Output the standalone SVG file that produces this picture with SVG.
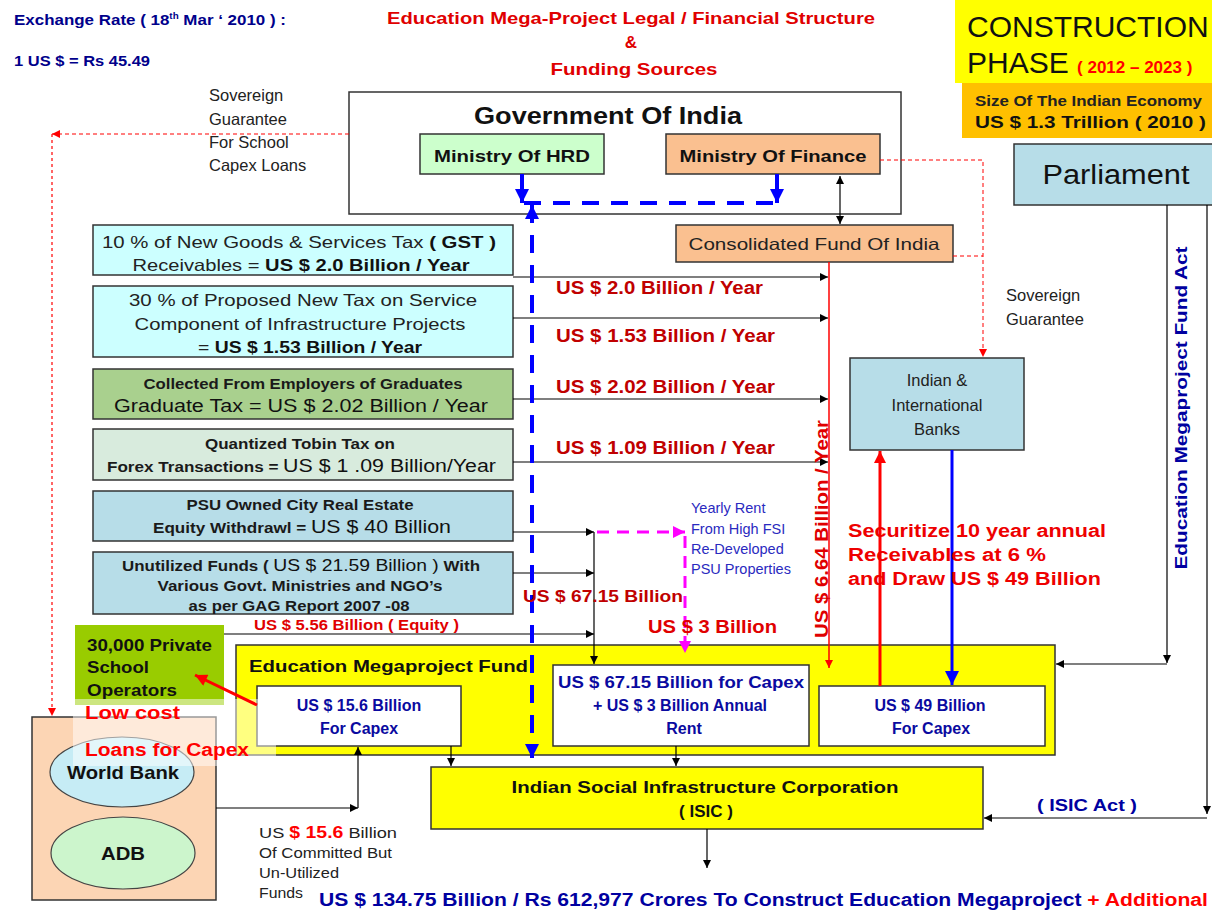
<svg xmlns="http://www.w3.org/2000/svg" width="1212" height="911" viewBox="0 0 1212 911">
<defs>
<style>
text{font-family:"Liberation Sans",Arial,sans-serif;}
.b{font-weight:bold;}
.box{stroke:#333;stroke-width:1.5;}
.ln{fill:none;stroke:#000;stroke-width:1.2;}
.navy{fill:#00008b;}
.dred{fill:#c00000;}
.red{fill:#ff0000;}
.blu{fill:#0a0aa0;}
</style>
<marker id="ab" viewBox="0 0 10 10" refX="10" refY="5" markerWidth="9" markerHeight="8" markerUnits="userSpaceOnUse" orient="auto-start-reverse"><path d="M0,0 L10,5 L0,10 z" fill="#000"/></marker>
<marker id="abl" viewBox="0 0 10 10" refX="10" refY="5" markerWidth="14" markerHeight="14" markerUnits="userSpaceOnUse" orient="auto-start-reverse"><path d="M0,0 L10,5 L0,10 z" fill="#0000ff"/></marker>
<marker id="ared" viewBox="0 0 10 10" refX="10" refY="5" markerWidth="14" markerHeight="12" markerUnits="userSpaceOnUse" orient="auto"><path d="M0,0 L10,5 L0,10 z" fill="#ff0000"/></marker>
<marker id="ars" viewBox="0 0 10 10" refX="10" refY="5" markerWidth="9" markerHeight="8" markerUnits="userSpaceOnUse" orient="auto"><path d="M0,0 L10,5 L0,10 z" fill="#ff0000"/></marker>
<marker id="amg" viewBox="0 0 10 10" refX="10" refY="5" markerWidth="12" markerHeight="12" markerUnits="userSpaceOnUse" orient="auto"><path d="M0,0 L10,5 L0,10 z" fill="#ff00ff"/></marker>
</defs>
<rect width="1212" height="911" fill="#fff"/>

<g id="header">
<text x="14" y="25" class="b navy" font-size="15.5" textLength="272" lengthAdjust="spacingAndGlyphs">Exchange Rate ( 18<tspan font-size="9" dy="-6">th</tspan><tspan dy="6"> Mar ‘ 2010 ) :</tspan></text>
<text x="14" y="66" class="b navy" font-size="15.5" textLength="136" lengthAdjust="spacingAndGlyphs">1 US $ = Rs 45.49</text>
<text x="631" y="24" class="b" fill="#e00000" font-size="17" text-anchor="middle" textLength="488" lengthAdjust="spacingAndGlyphs">Education Mega-Project Legal / Financial Structure</text>
<text x="631" y="48" class="b" fill="#e00000" font-size="17" text-anchor="middle">&amp;</text>
<text x="634" y="75" class="b" fill="#e00000" font-size="17" text-anchor="middle" textLength="167" lengthAdjust="spacingAndGlyphs">Funding Sources</text>
</g>

<g id="phase">
<rect x="955" y="0" width="257" height="83" fill="#ffff00"/>
<text x="967" y="37" font-size="30" fill="#111">CONSTRUCTION</text>
<text x="967" y="73" font-size="30" fill="#111">PHASE <tspan class="b" fill="#ff0000" font-size="17">( 2012 – 2023 )</tspan></text>
</g>
<g id="economy">
<rect x="962" y="83" width="250" height="55" fill="#ffc000"/>
<text x="975" y="106" class="b" font-size="14.5" fill="#222" textLength="227" lengthAdjust="spacingAndGlyphs">Size Of The Indian Economy</text>
<text x="975" y="128" class="b" font-size="17" fill="#111" textLength="231" lengthAdjust="spacingAndGlyphs">US $ 1.3 Trillion ( 2010 )</text>
</g>

<g id="parliament">
<rect x="1014" y="144" width="206" height="61" fill="#b7dde8" class="box"/>
<text x="1116" y="184" font-size="27" fill="#111" text-anchor="middle" textLength="147" lengthAdjust="spacingAndGlyphs">Parliament</text>
</g>

<g id="govt">
<rect x="349" y="92" width="552" height="122" fill="#fff" class="box"/>
<text x="608" y="124" class="b" font-size="23" fill="#111" text-anchor="middle" textLength="268" lengthAdjust="spacingAndGlyphs">Government Of India</text>
</g>
<g id="hrd">
<rect x="420" y="134" width="184" height="40" fill="#ccffcc" class="box"/>
<text x="512" y="162" class="b" font-size="16.5" fill="#111" text-anchor="middle" textLength="156" lengthAdjust="spacingAndGlyphs">Ministry Of HRD</text>
</g>
<g id="finance">
<rect x="666" y="134" width="214" height="40" fill="#fac090" class="box"/>
<text x="773" y="162" class="b" font-size="16.5" fill="#111" text-anchor="middle" textLength="187" lengthAdjust="spacingAndGlyphs">Ministry Of Finance</text>
</g>
<g id="consolidated">
<rect x="676" y="225" width="277" height="37" fill="#fac090" class="box"/>
<text x="814" y="250" font-size="16.5" fill="#222" text-anchor="middle" textLength="251" lengthAdjust="spacingAndGlyphs">Consolidated Fund Of India</text>
</g>

<g id="sovguar1">
<text font-size="16.5" fill="#222"><tspan x="209" y="101">Sovereign</tspan><tspan x="209" y="125">Guarantee</tspan><tspan x="209" y="148">For  School</tspan><tspan x="209" y="171">Capex Loans</tspan></text>
</g>
<g id="sovguar2">
<text font-size="16.5" fill="#222"><tspan x="1006" y="301">Sovereign</tspan><tspan x="1006" y="325">Guarantee</tspan></text>
</g>

<g id="gst">
<rect x="93" y="225" width="420" height="50" fill="#ccffff" class="box"/>
<text x="299" y="248" font-size="16.5" fill="#222" text-anchor="middle" textLength="394" lengthAdjust="spacingAndGlyphs">10 % of New Goods &amp; Services Tax <tspan class="b" fill="#111">( GST )</tspan></text>
<text x="301" y="271" font-size="16.5" fill="#222" text-anchor="middle" textLength="337" lengthAdjust="spacingAndGlyphs">Receivables = <tspan class="b" fill="#111">US $ 2.0 Billion / Year</tspan></text>
</g>
<g id="servicetax">
<rect x="93" y="286" width="420" height="71" fill="#ccffff" class="box"/>
<text x="303" y="306" font-size="16.5" fill="#222" text-anchor="middle" textLength="348" lengthAdjust="spacingAndGlyphs">30 % of Proposed New Tax on Service</text>
<text x="300" y="330" font-size="16.5" fill="#222" text-anchor="middle" textLength="331" lengthAdjust="spacingAndGlyphs">Component of Infrastructure Projects</text>
<text x="310" y="353" font-size="16.5" fill="#222" text-anchor="middle" textLength="224" lengthAdjust="spacingAndGlyphs">= <tspan class="b" fill="#111">US $ 1.53 Billion / Year</tspan></text>
</g>
<g id="gradtax">
<rect x="93" y="369" width="420" height="50" fill="#a9d08e" class="box"/>
<text x="303" y="389" class="b" font-size="14" fill="#1a1a1a" text-anchor="middle" textLength="319" lengthAdjust="spacingAndGlyphs">Collected From Employers of Graduates</text>
<text x="301" y="412" font-size="17.5" fill="#111" text-anchor="middle" textLength="374" lengthAdjust="spacingAndGlyphs">Graduate Tax = US $ 2.02 Billion / Year</text>
</g>
<g id="tobin">
<rect x="93" y="429" width="420" height="51" fill="#d8ebdd" class="box"/>
<text x="300" y="449" class="b" font-size="14" fill="#1a1a1a" text-anchor="middle" textLength="190" lengthAdjust="spacingAndGlyphs">Quantized Tobin Tax on</text>
<text x="107" y="472" class="b" font-size="14" fill="#1a1a1a" textLength="389" lengthAdjust="spacingAndGlyphs">Forex Transactions = <tspan font-weight="normal" font-size="17.5" fill="#111">US $ 1 .09 Billion/Year</tspan></text>
</g>
<g id="psu">
<rect x="93" y="491" width="420" height="50" fill="#b7dde8" class="box"/>
<text x="300" y="510" class="b" font-size="14" fill="#1a1a1a" text-anchor="middle" textLength="227" lengthAdjust="spacingAndGlyphs">PSU Owned City Real Estate</text>
<text x="153" y="533" class="b" font-size="14" fill="#1a1a1a" textLength="298" lengthAdjust="spacingAndGlyphs">Equity Withdrawl = <tspan font-weight="normal" font-size="17.5" fill="#111">US $ 40 Billion</tspan></text>
</g>
<g id="unutilized">
<rect x="93" y="552" width="420" height="62" fill="#b7dde8" class="box"/>
<text x="122" y="571" class="b" font-size="14" fill="#1a1a1a" textLength="358" lengthAdjust="spacingAndGlyphs">Unutilized Funds ( <tspan font-weight="normal" font-size="16" fill="#111">US $ 21.59 Billion )</tspan> With</text>
<text x="300" y="591" class="b" font-size="14" fill="#1a1a1a" text-anchor="middle" textLength="285" lengthAdjust="spacingAndGlyphs">Various Govt. Ministries and NGO’s</text>
<text x="299" y="611" class="b" font-size="14" fill="#1a1a1a" text-anchor="middle" textLength="221" lengthAdjust="spacingAndGlyphs">as per GAG Report 2007 -08</text>
</g>

<g id="banks">
<rect x="850" y="358" width="174" height="92" fill="#b7dde8" class="box"/>
<text font-size="16.5" fill="#222" text-anchor="middle"><tspan x="937" y="386">Indian &amp;</tspan><tspan x="937" y="411">International</tspan><tspan x="937" y="435">Banks</tspan></text>
</g>

<g id="fund">
<rect x="236" y="645" width="819" height="110" fill="#ffff00" class="box"/>
<text x="249" y="672" class="b" font-size="17" fill="#111" textLength="279" lengthAdjust="spacingAndGlyphs">Education Megaproject Fund</text>
</g>
<g id="fund156">
<rect x="257" y="686" width="204" height="60" fill="#fff" class="box"/>
<text class="b blu" font-size="16" text-anchor="middle"><tspan x="359" y="711">US $ 15.6 Billion</tspan><tspan x="359" y="734">For Capex</tspan></text>
</g>
<g id="fund6715">
<rect x="553" y="665" width="256" height="81" fill="#fff" class="box"/>
<text class="b blu" font-size="16" text-anchor="middle"><tspan x="681" y="688" textLength="246" lengthAdjust="spacingAndGlyphs">US $ 67.15 Billion for Capex</tspan><tspan x="680" y="711">+ US $ 3 Billion Annual</tspan><tspan x="684" y="734">Rent</tspan></text>
</g>
<g id="fund49">
<rect x="819" y="686" width="226" height="60" fill="#fff" class="box"/>
<text class="b blu" font-size="16" text-anchor="middle"><tspan x="930" y="711">US $ 49 Billion</tspan><tspan x="931" y="734">For Capex</tspan></text>
</g>

<g id="isic">
<rect x="431" y="767" width="552" height="62" fill="#ffff00" class="box"/>
<text x="705" y="793" class="b" font-size="17" fill="#111" text-anchor="middle" textLength="387" lengthAdjust="spacingAndGlyphs">Indian Social Infrastructure Corporation</text>
<text x="706" y="817" class="b" font-size="17" fill="#111" text-anchor="middle">( ISIC )</text>
</g>

<g id="lenders">
<rect x="32" y="717" width="184" height="183" fill="#fcd5b4" class="box"/>
<ellipse cx="122" cy="772" rx="72" ry="35" fill="#c6ecf5" stroke="#444" stroke-width="1.2"/>
<text x="123" y="779" class="b" font-size="18.5" fill="#111" text-anchor="middle" textLength="112" lengthAdjust="spacingAndGlyphs">World Bank</text>
<ellipse cx="123" cy="853" rx="72" ry="36" fill="#ccf5cc" stroke="#444" stroke-width="1.2"/>
<text x="123" y="860" class="b" font-size="18.5" fill="#111" text-anchor="middle" textLength="44" lengthAdjust="spacingAndGlyphs">ADB</text>
</g>

<g id="operators">
<rect x="75" y="625" width="149" height="80" fill="#99cc00"/>
<text class="b" font-size="17" fill="#111"><tspan x="87" y="651" textLength="125" lengthAdjust="spacingAndGlyphs">30,000 Private</tspan><tspan x="87" y="673" textLength="62" lengthAdjust="spacingAndGlyphs">School</tspan><tspan x="87" y="696" textLength="90" lengthAdjust="spacingAndGlyphs">Operators</tspan></text>
</g>
<g id="lowcost">
<rect x="73" y="699" width="203" height="67" fill="#ffffff" opacity="0.5"/>
<text class="b red" font-size="18"><tspan x="85" y="719" textLength="95" lengthAdjust="spacingAndGlyphs">Low  cost</tspan><tspan x="85" y="756" textLength="164" lengthAdjust="spacingAndGlyphs">Loans  for Capex</tspan></text>
</g>

<g id="connectors">
<line x1="840" y1="176" x2="840" y2="224" class="ln" marker-start="url(#ab)" marker-end="url(#ab)"/>
<line x1="513" y1="277" x2="828" y2="277" class="ln" marker-end="url(#ab)"/>
<line x1="513" y1="318" x2="828" y2="318" class="ln" marker-end="url(#ab)"/>
<line x1="513" y1="399" x2="828" y2="399" class="ln" marker-end="url(#ab)"/>
<line x1="513" y1="462" x2="828" y2="462" class="ln" marker-end="url(#ab)"/>
<line x1="513" y1="532" x2="594" y2="532" class="ln" marker-end="url(#ab)"/>
<line x1="513" y1="573" x2="594" y2="573" class="ln" marker-end="url(#ab)"/>
<line x1="224" y1="634" x2="594" y2="634" class="ln" marker-end="url(#ab)"/>
<line x1="594" y1="532" x2="594" y2="664" class="ln" marker-end="url(#ab)"/>
<line x1="1167" y1="205" x2="1167" y2="663" class="ln" marker-end="url(#ab)"/>
<line x1="1167" y1="664" x2="1056" y2="664" class="ln" marker-end="url(#ab)"/>
<line x1="1207" y1="205" x2="1207" y2="814" class="ln" marker-end="url(#ab)"/>
<line x1="1207" y1="818" x2="984" y2="818" class="ln" marker-end="url(#ab)"/>
<line x1="451" y1="746" x2="451" y2="766" class="ln" marker-end="url(#ab)"/>
<line x1="676" y1="746" x2="676" y2="766" class="ln" marker-end="url(#ab)"/>
<line x1="707" y1="829" x2="707" y2="868" class="ln" marker-end="url(#ab)"/>
<line x1="216" y1="808" x2="358" y2="808" class="ln" marker-end="url(#ab)"/>
<line x1="358" y1="808" x2="358" y2="747" class="ln" marker-end="url(#ab)"/>
<line x1="829" y1="262" x2="829" y2="668" stroke="#ff0000" stroke-width="1.5" marker-end="url(#ars)"/>
<polyline points="880,160 983,160 983,357" fill="none" stroke="#ff0000" stroke-width="1" stroke-dasharray="4 3" marker-end="url(#ars)"/>
<line x1="953" y1="256" x2="983" y2="256" stroke="#ff0000" stroke-width="1" stroke-dasharray="4 3"/>
<line x1="349" y1="134" x2="52" y2="134" stroke="#ff0000" stroke-width="1.2" stroke-dasharray="4 3" marker-end="url(#ars)"/>
<line x1="52" y1="134" x2="52" y2="716" stroke="#ff0000" stroke-width="1.2" stroke-dasharray="3 3" marker-end="url(#ars)"/>
<line x1="880" y1="686" x2="880" y2="451" stroke="#ff0000" stroke-width="3" marker-end="url(#ared)"/>
<line x1="257" y1="705" x2="195" y2="675" stroke="#ff0000" stroke-width="3" marker-end="url(#ared)"/>
<line x1="952" y1="450" x2="952" y2="685" stroke="#0000ff" stroke-width="3" marker-end="url(#abl)"/>
<line x1="522" y1="174" x2="522" y2="203" stroke="#0000ff" stroke-width="4" marker-end="url(#abl)"/>
<line x1="777" y1="174" x2="777" y2="203" stroke="#0000ff" stroke-width="4" marker-end="url(#abl)"/>
<line x1="524" y1="203" x2="780" y2="203" stroke="#0000ff" stroke-width="4" stroke-dasharray="17 12"/>
<line x1="532" y1="205" x2="532" y2="758" stroke="#0000ff" stroke-width="4" stroke-dasharray="18 12" marker-start="url(#abl)" marker-end="url(#abl)"/>
<line x1="597" y1="532" x2="685" y2="532" stroke="#ff00ff" stroke-width="3" stroke-dasharray="12 8" marker-end="url(#amg)"/>
<line x1="685" y1="536" x2="685" y2="653" stroke="#ff00ff" stroke-width="3" stroke-dasharray="12 8" marker-end="url(#amg)"/>
</g>

<g id="labels">
<text class="b dred" font-size="17.5"><tspan x="556" y="294" textLength="207" lengthAdjust="spacingAndGlyphs">US $ 2.0 Billion / Year</tspan><tspan x="556" y="342" textLength="219" lengthAdjust="spacingAndGlyphs">US $ 1.53 Billion / Year</tspan><tspan x="556" y="393" textLength="219" lengthAdjust="spacingAndGlyphs">US $ 2.02 Billion / Year</tspan><tspan x="556" y="454" textLength="219" lengthAdjust="spacingAndGlyphs">US $ 1.09 Billion / Year</tspan></text>
<text x="254" y="630" class="b" fill="#e00000" font-size="14" textLength="205" lengthAdjust="spacingAndGlyphs">US $ 5.56 Billion ( Equity )</text>
<text x="523" y="602" class="b dred" font-size="16.5" textLength="160" lengthAdjust="spacingAndGlyphs">US $ 67.15  Billion</text>
<text x="648" y="633" class="b" fill="#e00000" font-size="18" textLength="129" lengthAdjust="spacingAndGlyphs">US $ 3 Billion</text>
<text font-size="14.5" fill="#2a2ac0"><tspan x="691" y="513">Yearly Rent</tspan><tspan x="691" y="534">From High FSI</tspan><tspan x="691" y="554">Re-Developed</tspan><tspan x="691" y="574">PSU Properties</tspan></text>
<text transform="translate(828,529) rotate(-90)" class="b" fill="#e00000" font-size="18.5" text-anchor="middle" textLength="218" lengthAdjust="spacingAndGlyphs">US $ 6.64 Billion / Year</text>
<text class="b" fill="#ee0000" font-size="17.5"><tspan x="848" y="537" textLength="258" lengthAdjust="spacingAndGlyphs">Securitize 10 year annual</tspan><tspan x="848" y="561" textLength="198" lengthAdjust="spacingAndGlyphs">Receivables at 6 %</tspan><tspan x="848" y="585" textLength="253" lengthAdjust="spacingAndGlyphs">and Draw US $ 49 Billion</tspan></text>
<text transform="translate(1187,408) rotate(-90)" class="b" fill="#0000a0" font-size="17" text-anchor="middle" textLength="323" lengthAdjust="spacingAndGlyphs">Education  Megaproject Fund Act</text>
<text x="1037" y="811" class="b" fill="#0000a0" font-size="17" textLength="100" lengthAdjust="spacingAndGlyphs">( ISIC Act )</text>
<text font-size="15" fill="#222"><tspan x="259" y="838" textLength="138" lengthAdjust="spacingAndGlyphs">US <tspan class="b red" font-size="16">$ 15.6</tspan>   Billion</tspan><tspan x="259" y="858" textLength="133" lengthAdjust="spacingAndGlyphs">Of Committed But</tspan><tspan x="259" y="878" textLength="80" lengthAdjust="spacingAndGlyphs">Un-Utilized</tspan><tspan x="259" y="898" textLength="44" lengthAdjust="spacingAndGlyphs">Funds</tspan></text>
<text x="319" y="906" class="b" fill="#0000a0" font-size="17.5" textLength="889" lengthAdjust="spacingAndGlyphs">US $ 134.75 Billion / Rs 612,977 Crores To Construct Education Megaproject <tspan fill="#ff0000">+ Additional</tspan></text>
</g>
</svg>
